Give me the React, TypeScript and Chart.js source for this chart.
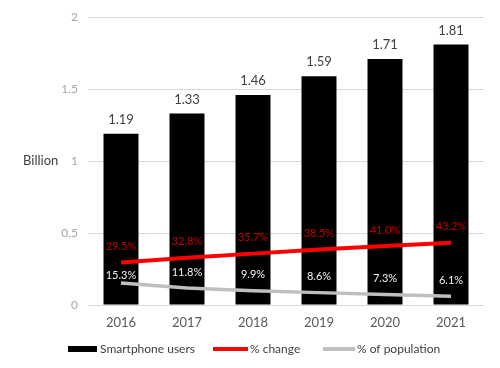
import React, { useEffect, useRef } from "react";
import { Chart, registerables } from "chart.js";

Chart.register(...registerables);

const years = ["2016", "2017", "2018", "2019", "2020", "2021"];
const smartphoneUsers = [1.19, 1.33, 1.46, 1.59, 1.71, 1.81];
const pctChange = [0.295, 0.328, 0.357, 0.385, 0.41, 0.432];
const pctChangeLabels = ["29.5%", "32.8%", "35.7%", "38.5%", "41.0%", "43.2%"];
const pctPopulation = [0.153, 0.118, 0.099, 0.086, 0.073, 0.061];
const pctPopulationLabels = ["15.3%", "11.8%", "9.9%", "8.6%", "7.3%", "6.1%"];
const yTicks = [0, 0.5, 1, 1.5, 2];
const seriesNames = ["Smartphone users", "% change", "% of population"];

const FONT = "Lato, 'Open Sans', sans-serif";

const labelPlugin = {
  id: "customLabels",
  afterDatasetsDraw(chart: any) {
    const ctx = chart.ctx;
    ctx.save();
    ctx.textAlign = "center";
    ctx.textBaseline = "middle";
    const barMeta = chart.getDatasetMeta(0);
    ctx.font = `13px ${FONT}`;
    ctx.fillStyle = "#404040";
    barMeta.data.forEach((el: any, i: number) => {
      ctx.fillText(String(smartphoneUsers[i].toFixed(2)), el.x, el.y - 14);
    });
    const redMeta = chart.getDatasetMeta(1);
    ctx.font = `11px ${FONT}`;
    ctx.fillStyle = "#C00000";
    redMeta.data.forEach((el: any, i: number) => {
      ctx.fillText(pctChangeLabels[i], el.x, el.y - 16);
    });
    const grayMeta = chart.getDatasetMeta(2);
    ctx.fillStyle = "#F2F2F2";
    grayMeta.data.forEach((el: any, i: number) => {
      const off = i === 0 ? 8 : 16;
      ctx.fillText(pctPopulationLabels[i], el.x, el.y - off);
    });
    ctx.restore();
  },
  afterDraw(chart: any) {
    const ctx = chart.ctx;
    const area = chart.chartArea;
    ctx.save();
    ctx.font = `13px ${FONT}`;
    ctx.fillStyle = "#404040";
    ctx.textAlign = "left";
    ctx.textBaseline = "middle";
    ctx.fillText("Billion", 23, (area.top + area.bottom) / 2);
    const ly = 349;
    ctx.font = `12px ${FONT}`;
    ctx.fillStyle = "#000000";
    ctx.fillRect(68, ly - 3, 29, 6);
    ctx.fillStyle = "#404040";
    ctx.fillText(seriesNames[0], 100, ly);
    ctx.strokeStyle = "#FF0000";
    ctx.lineWidth = 4;
    ctx.beginPath();
    ctx.moveTo(213, ly);
    ctx.lineTo(248, ly);
    ctx.stroke();
    ctx.fillText(seriesNames[1], 250, ly);
    ctx.strokeStyle = "#BFBFBF";
    ctx.beginPath();
    ctx.moveTo(323, ly);
    ctx.lineTo(355, ly);
    ctx.stroke();
    ctx.fillText(seriesNames[2], 357, ly);
    ctx.restore();
  },
};

export default function App() {
  const ref = useRef<HTMLCanvasElement>(null);
  useEffect(() => {
    if (!ref.current) return;
    const chart = new Chart(ref.current, {
      type: "bar",
      data: {
        labels: years,
        datasets: [
          {
            type: "bar",
            label: seriesNames[0],
            data: smartphoneUsers,
            backgroundColor: "#000000",
            borderColor: "#000000",
            categoryPercentage: 1,
            barPercentage: 0.53,
            order: 3,
          },
          {
            type: "line",
            label: seriesNames[1],
            data: pctChange,
            borderColor: "#FF0000",
            borderWidth: 4,
            pointRadius: 0,
            tension: 0,
            order: 1,
          },
          {
            type: "line",
            label: seriesNames[2],
            data: pctPopulation,
            borderColor: "#BFBFBF",
            borderWidth: 3.5,
            pointRadius: 0,
            tension: 0,
            order: 2,
          },
        ] as any,
      },
      plugins: [labelPlugin],
      options: {
        responsive: false,
        animation: false,
        layout: { padding: { top: 17, right: 16, left: 0, bottom: 0 } },
        plugins: {
          legend: { display: false },
          tooltip: { enabled: false },
        },
        scales: {
          x: {
            grid: { display: false, drawTicks: false },
            border: { display: false },
            ticks: {
              color: "#595959",
              font: { size: 13, family: FONT },
              padding: 10,
            },
            afterFit(scale: any) {
              scale.height = 63;
            },
          },
          y: {
            min: 0,
            max: 2,
            afterBuildTicks(scale: any) {
              scale.ticks = yTicks.map((v) => ({ value: v }));
            },
            grid: { color: "#D9D9D9", lineWidth: 1, drawTicks: false },
            border: { display: false },
            ticks: {
              color: "#A6A6A6",
              font: { size: 12, family: FONT },
              padding: 10,
              callback: (v: any) => String(Number(v)),
            },
            afterFit(scale: any) {
              scale.width = 88;
            },
          },
        },
      },
    });
    return () => chart.destroy();
  }, []);
  return (
    <div style={{ position: "fixed", left: 0, top: 0, width: 500, height: 368, background: "#fff" }}>
      <canvas ref={ref} width={500} height={368} />
    </div>
  );
}
